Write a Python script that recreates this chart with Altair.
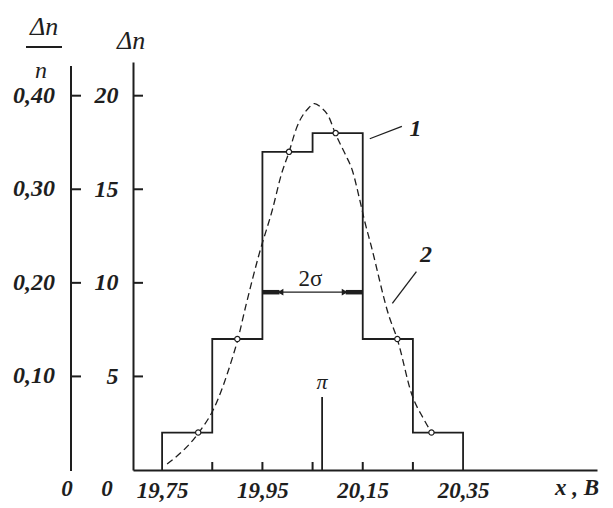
import altair as alt
import pandas as pd

# ---------------- data ----------------
bin_edges = [19.75, 19.85, 19.95, 20.05, 20.15, 20.25, 20.35]
counts = [2, 7, 17, 18, 7, 2]

# dashed fitted curve (curve 2), read point by point
curve_x = [19.760, 19.822, 19.854, 19.890, 19.900, 19.917, 19.944, 19.970,
           19.988, 20.003, 20.017, 20.043, 20.054, 20.067, 20.081, 20.096,
           20.115, 20.129, 20.144, 20.153, 20.167, 20.202, 20.219, 20.248,
           20.272, 20.287]
curve_y = [0.32, 1.96, 3.33, 5.98, 6.88, 8.78, 11.59, 13.92,
           15.82, 16.98, 18.20, 19.37, 19.58, 19.37, 18.94, 17.94,
           16.88, 16.03, 14.44, 13.39, 11.96, 8.25, 6.98, 4.02,
           2.70, 2.00]

# small circles where the curve meets the histogram
circle_x = [19.822, 19.900, 20.003, 20.096, 20.219, 20.287]
circle_y = [2, 7, 17, 18, 7, 2]

x_ticks = [19.85, 19.95, 20.05, 20.15, 20.25]
x_labels = [19.75, 19.95, 20.15, 20.35]
dn_ticks = [5, 10, 15, 20]
ratio_ticks = [0.10, 0.20, 0.30, 0.40]
n_total = 50

# annotations
sigma_y = 9.5
sigma_x = [19.95, 20.15]
pi_x = 20.069
pi_top = 3.9
leader_x0 = [20.164, 20.209]
leader_y0 = [17.7, 8.9]
leader_x1 = [20.228, 20.257]
leader_y1 = [18.36, 10.6]
curve_labels = ["1", "2"]
curve_label_x = [20.255, 20.276]
curve_label_y = [18.2, 11.5]

# ---------------- chart ----------------
FONT = "Liberation Serif"
INK = "#1e1e1e"
W, H = 464, 408
Y_MAX = 21.8

xs = alt.Scale(domain=[19.692, 20.617], nice=False, zero=False)
ys = alt.Scale(domain=[0, Y_MAX], nice=False, zero=True)

comma_fmt = "replace(format(datum.value, '.2f'), '.', ',')"

AX_X = alt.Axis(
    values=x_labels, labelExpr=comma_fmt, ticks=False, grid=False,
    title=None, domainColor=INK, domainWidth=2, labelPadding=9,
    labelFontSize=23, labelColor=INK,
    labelFont=FONT, labelFontStyle="italic", labelFontWeight="bold")
AX_Y = alt.Axis(
    values=dn_ticks, ticks=False, grid=False, title=None,
    domainColor=INK, domainWidth=2, labelPadding=15,
    labelFontSize=24, labelColor=INK, labelFont=FONT,
    labelFontStyle="italic", labelFontWeight="bold")


def X(f="x:Q"):
    return alt.X(f, scale=xs, axis=AX_X)


def Y(f="y:Q"):
    return alt.Y(f, scale=ys, axis=AX_Y)


outline = pd.DataFrame({
    "x": [bin_edges[0]] + bin_edges,
    "y": [0] + counts + [0],
    "i": list(range(len(bin_edges) + 1)),
})

hist = alt.Chart(outline).mark_line(
    interpolate="step-after", color=INK, strokeWidth=1.8
).encode(x=X(), y=Y(), order="i:Q")

curve = alt.Chart(pd.DataFrame({"x": curve_x, "y": curve_y})).mark_line(
    interpolate="monotone", color=INK, strokeWidth=1.3, strokeDash=[7, 4]
).encode(x=X(), y=Y())

circles = alt.Chart(pd.DataFrame({"x": circle_x, "y": circle_y})).mark_point(
    shape="circle", size=28, filled=True, fill="white", stroke=INK,
    strokeWidth=1.2, opacity=1
).encode(x=X(), y=Y())

xtick_rules = alt.Chart(pd.DataFrame({"x": x_ticks})).mark_rule(
    color=INK, strokeWidth=2
).encode(x=X(), y=alt.value(H - 8), y2=alt.value(H))

dn_tick_rules = alt.Chart(pd.DataFrame({"y": dn_ticks})).mark_rule(
    color=INK, strokeWidth=2
).encode(y=Y(), x=alt.value(0), x2=alt.value(10))

# second (relative) axis: Δn/n = Δn / n_total, drawn on the Δn scale
ratio_df = pd.DataFrame({
    "y": [r * n_total for r in ratio_ticks],
    "t": [f"{r:.2f}".replace(".", ",") for r in ratio_ticks],
})
ratio_tick_rules = alt.Chart(ratio_df).mark_rule(color=INK, strokeWidth=2).encode(
    y=Y(), x=alt.value(-62), x2=alt.value(-52))
ratio_labels = alt.Chart(ratio_df).mark_text(
    font=FONT, fontSize=24, fontStyle="italic", fontWeight="bold", color=INK,
    align="right", baseline="middle"
).encode(y=Y(), x=alt.value(-78), text="t:N")
ratio_domain = alt.Chart(pd.DataFrame({"t": ["axis"]})).mark_rule(
    color=INK, strokeWidth=2).encode(
    x=alt.value(-62), y=alt.value(4), y2=alt.value(H + 1))

# 2 sigma dimension line
sig_df = pd.DataFrame({"x": [sigma_x[0]], "x2": [sigma_x[1]], "y": [sigma_y]})
sig_line = alt.Chart(sig_df).mark_rule(color=INK, strokeWidth=1.2).encode(
    x=X(), x2="x2:Q", y=Y())
heads = pd.DataFrame({
    "x": [sigma_x[0], sigma_x[1] - 0.034],
    "x2": [sigma_x[0] + 0.034, sigma_x[1]],
    "y": [sigma_y, sigma_y]})
sig_heads = alt.Chart(heads).mark_rule(color=INK, strokeWidth=4.5).encode(
    x=X(), x2="x2:Q", y=Y())
tri = pd.DataFrame({"x": [sigma_x[0] + 0.036, sigma_x[1] - 0.036],
                    "y": [sigma_y, sigma_y],
                    "s": ["triangle-left", "triangle-right"]})
sig_tri = alt.Chart(tri).mark_point(filled=True, color=INK, size=45, opacity=1).encode(
    x=X(), y=Y(), shape=alt.Shape("s:N", scale=None))
sig_text = alt.Chart(pd.DataFrame({"x": [20.046], "y": [10.2], "t": ["2σ"]})).mark_text(
    font=FONT, fontSize=23, color=INK, baseline="middle"
).encode(x=X(), y=Y(), text="t:N")

# pi marker
pi_df = pd.DataFrame({"x": [pi_x], "y": [0], "y2": [pi_top], "t": ["π"]})
pi_line = alt.Chart(pi_df).mark_rule(color=INK, strokeWidth=1.8).encode(
    x=X(), y=Y(), y2="y2:Q")
pi_text = alt.Chart(pi_df).mark_text(
    font=FONT, fontSize=22, fontStyle="italic", color=INK, baseline="bottom", dy=-3
).encode(x=X(), y=Y("y2:Q"), text="t:N")

# curve labels with leader lines
lead_df = pd.DataFrame({"x": leader_x0, "y": leader_y0, "x2": leader_x1, "y2": leader_y1})
leaders = alt.Chart(lead_df).mark_rule(color=INK, strokeWidth=1.3).encode(
    x=X(), y=Y(), x2="x2:Q", y2="y2:Q")
lab_df = pd.DataFrame({"x": curve_label_x, "y": curve_label_y, "t": curve_labels})
labels = alt.Chart(lab_df).mark_text(
    font=FONT, fontSize=24, fontStyle="italic", fontWeight="bold", color=INK
).encode(x=X(), y=Y(), text="t:N")


def ptext(s, x, y, size, style="italic", weight="normal", align="center"):
    return alt.Chart(pd.DataFrame({"t": [s]})).mark_text(
        font=FONT, fontSize=size, fontStyle=style, fontWeight=weight,
        align=align, baseline="middle", color=INK
    ).encode(x=alt.value(x), y=alt.value(y), text="t:N")


title_num = ptext("Δn", -89, -35, 26)
title_bar = alt.Chart(pd.DataFrame({"t": ["bar"]})).mark_rule(color=INK, strokeWidth=2).encode(
    x=alt.value(-107), x2=alt.value(-71), y=alt.value(-15))
title_den = ptext("n", -92, 9, 24)
title_dn = ptext("Δn", -2, -21, 26)
zero1 = ptext("0", -66, H + 19, 23, weight="bold")
zero2 = ptext("0", -26, H + 19, 23, weight="bold")
x_title = ptext("x , B", 466, H + 18, 23, weight="bold", align="right")

chart = alt.layer(
    hist, curve, circles, xtick_rules, dn_tick_rules,
    ratio_domain, ratio_tick_rules, ratio_labels,
    sig_line, sig_heads, sig_tri, sig_text, pi_line, pi_text, leaders, labels,
    title_num, title_bar, title_den, title_dn, zero1, zero2, x_title,
).properties(
    width=W, height=H,
    padding={"left": 125, "top": 54, "right": 4, "bottom": 34},
    autosize=alt.AutoSizeParams(type="none"),
).configure_view(stroke=None)

chart.save("out.html", embed_options={"renderer": "svg", "actions": False})
